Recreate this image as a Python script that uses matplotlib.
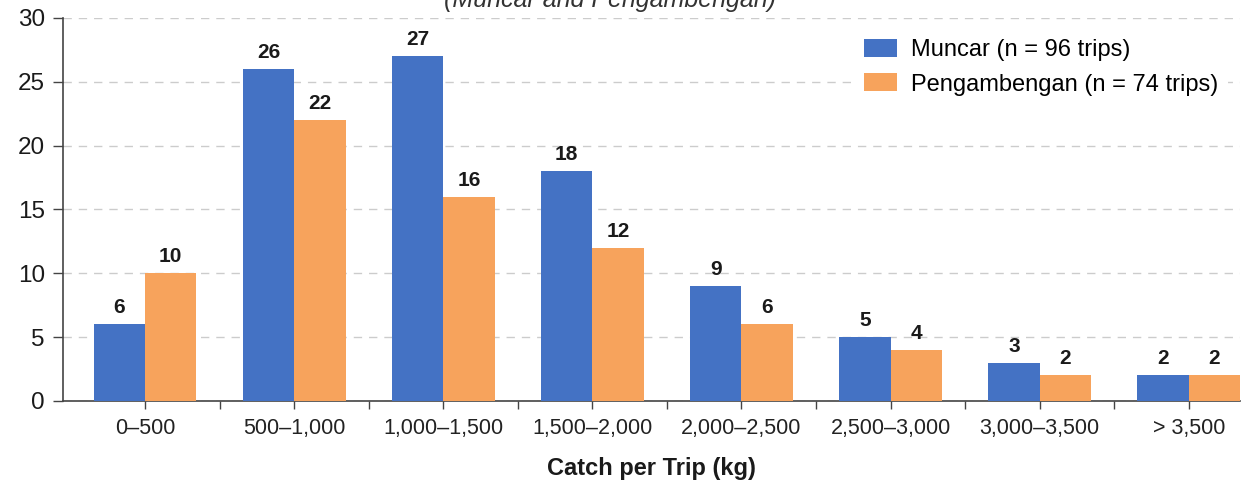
import numpy as np
import matplotlib
matplotlib.use("Agg")
import matplotlib.pyplot as plt
from matplotlib.ticker import MultipleLocator

plt.rcParams['font.family'] = ['Liberation Sans', 'DejaVu Sans']

# data
categories = ['0–500', '500–1,000', '1,000–1,500', '1,500–2,000',
              '2,000–2,500', '2,500–3,000', '3,000–3,500', '> 3,500']
muncar = [6, 26, 27, 18, 9, 5, 3, 2]
pengambengan = [10, 22, 16, 12, 6, 4, 2, 2]
series_names = ['Muncar (n = 96 trips)', 'Pengambengan (n = 74 trips)']
colors = ['#4472C4', '#F7A35C']

fig = plt.figure(figsize=(12.47, 4.86), dpi=100)
ax = fig.add_axes([0.0505, 0.175, 0.9435, 0.788])

x = np.arange(len(categories))
w = 0.345
b1 = ax.bar(x - w / 2, muncar, w, color=colors[0], label=series_names[0], zorder=3)
b2 = ax.bar(x + w / 2, pengambengan, w, color=colors[1], label=series_names[1], zorder=3)
ax.bar_label(b1, padding=5, fontsize=15, fontweight='bold', color='#1a1a1a')
ax.bar_label(b2, padding=5, fontsize=15, fontweight='bold', color='#1a1a1a')

ax.set_xlim(-0.55, 7.34)
ax.set_ylim(0, 30)
ax.yaxis.set_major_locator(MultipleLocator(5))
ax.set_xticks(x)
ax.set_xticklabels(categories, fontsize=15.5, color='#222222')
ax.set_xticks(np.arange(len(categories) - 1) + 0.5, minor=True)
ax.tick_params(axis='x', which='both', length=6, width=1, color='#444444', pad=6)
ax.tick_params(axis='y', length=7, width=1, color='#444444', labelsize=17.5,
               labelcolor='#1a1a1a', pad=6)

ax.yaxis.grid(True, linestyle=(0, (6, 5)), color='#cccccc', linewidth=1, zorder=0)
ax.set_axisbelow(True)
for s in ['top', 'right']:
    ax.spines[s].set_visible(False)
ax.spines['left'].set_color('#444444')
ax.spines['bottom'].set_color('#444444')
ax.spines['left'].set_linewidth(1.2)
ax.spines['bottom'].set_linewidth(1.2)

ax.set_xlabel('Catch per Trip (kg)', fontsize=17, fontweight='bold', labelpad=13, color='#1a1a1a')

leg = ax.legend(loc='upper right', bbox_to_anchor=(1.0, 1.0), fontsize=17, frameon=True,
                facecolor='white', edgecolor='none', framealpha=1,
                handlelength=1.4, handleheight=0.8, handletextpad=0.6, labelspacing=0.5)

# top of the title block is cropped in the source image
fig.text(0.489, 1.0, '(Muncar and Pengambengan)', ha='center', va='center',
         fontsize=18, style='italic', color='#333333')

fig.savefig('out.png', dpi=100)
